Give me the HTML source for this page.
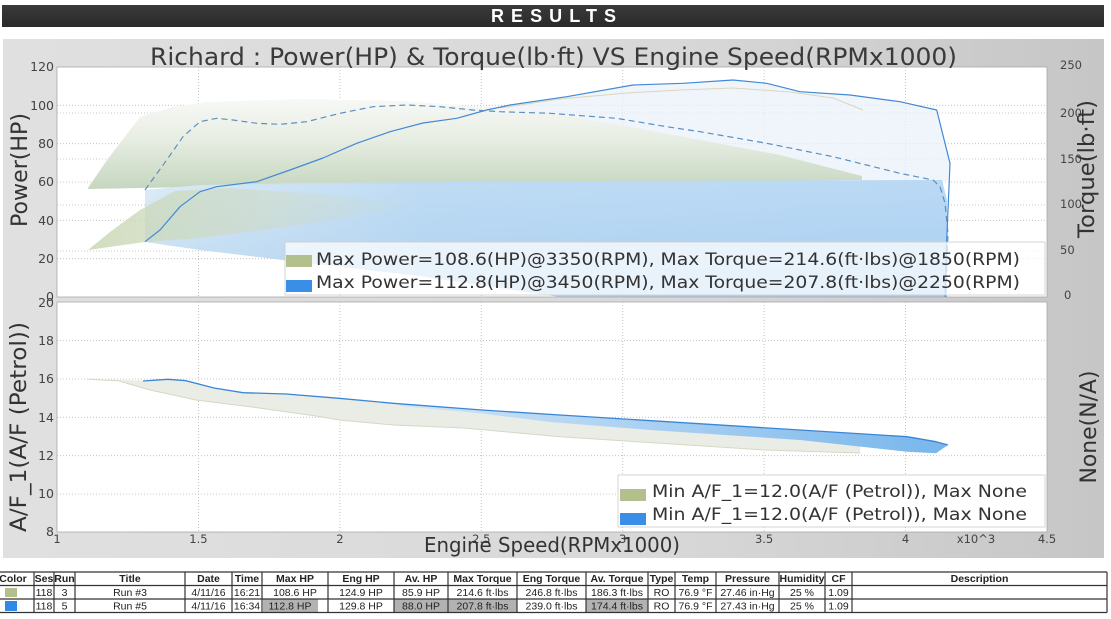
<!DOCTYPE html>
<html><head><meta charset="utf-8"><style>
html,body{margin:0;padding:0;background:#fff;}
svg{display:block;}
</style></head><body>
<svg width="1111" height="619" viewBox="0 0 1111 619" xmlns="http://www.w3.org/2000/svg" font-family="'DejaVu Sans','Liberation Sans',sans-serif">
<defs>
<linearGradient id="panel" x1="0" y1="0" x2="1" y2="0">
<stop offset="0" stop-color="#e0e0e0"/><stop offset="0.6" stop-color="#d8d8d8"/><stop offset="1" stop-color="#c6c6c6"/>
</linearGradient>
<linearGradient id="hdr" x1="0" y1="0" x2="0" y2="1">
<stop offset="0" stop-color="#3a3a3a"/><stop offset="1" stop-color="#2a2a2a"/>
</linearGradient>
<linearGradient id="greenUp" gradientUnits="userSpaceOnUse" x1="0" y1="97" x2="0" y2="188">
<stop offset="0" stop-color="#f8f9f6"/><stop offset="0.45" stop-color="#e8eee4"/><stop offset="1" stop-color="#c6d7c0"/>
</linearGradient>
<linearGradient id="blueMain" gradientUnits="userSpaceOnUse" x1="145" y1="0" x2="947" y2="0">
<stop offset="0" stop-color="#dbeaf5"/><stop offset="0.35" stop-color="#bcdaf3"/><stop offset="1" stop-color="#b6d7f4"/>
</linearGradient>
<linearGradient id="blueVert" gradientUnits="userSpaceOnUse" x1="0" y1="180" x2="0" y2="297">
<stop offset="0" stop-color="#7fb5e8" stop-opacity="0"/><stop offset="1" stop-color="#7fb5e8" stop-opacity="0.3"/>
</linearGradient>
<linearGradient id="greenLow" gradientUnits="userSpaceOnUse" x1="88" y1="0" x2="420" y2="0">
<stop offset="0" stop-color="#c8d6b4" stop-opacity="0.85"/><stop offset="0.5" stop-color="#cfdabe" stop-opacity="0.55"/><stop offset="1" stop-color="#cfdabe" stop-opacity="0"/>
</linearGradient>
<linearGradient id="afBlue" gradientUnits="userSpaceOnUse" x1="400" y1="0" x2="948" y2="0">
<stop offset="0" stop-color="#cfe4f8"/><stop offset="0.5" stop-color="#a6cef1"/><stop offset="1" stop-color="#78b6ec"/>
</linearGradient>
</defs>

<!-- header bar -->
<rect x="2" y="5" width="1102" height="22" fill="url(#hdr)"/>
<text x="491" y="22" font-family="'Liberation Sans',sans-serif" font-weight="bold" font-size="18" fill="#ffffff" textLength="125" lengthAdjust="spacing">RESULTS</text>

<!-- gray panel -->
<rect x="3" y="39" width="1101" height="519" fill="url(#panel)"/>

<!-- plot areas -->
<rect x="57" y="67" width="990" height="230" fill="#ffffff"/>
<rect x="57" y="302" width="990" height="230" fill="#ffffff"/>

<!-- grid -->
<g stroke="#b8b8b8" stroke-width="0.8" stroke-dasharray="1,2" fill="none">
<line x1="198.4" y1="67" x2="198.4" y2="297"/><line x1="339.9" y1="67" x2="339.9" y2="297"/>
<line x1="481.3" y1="67" x2="481.3" y2="297"/><line x1="622.7" y1="67" x2="622.7" y2="297"/>
<line x1="764.1" y1="67" x2="764.1" y2="297"/><line x1="905.6" y1="67" x2="905.6" y2="297"/>
<line x1="57" y1="105.3" x2="1047" y2="105.3"/><line x1="57" y1="143.7" x2="1047" y2="143.7"/>
<line x1="57" y1="182" x2="1047" y2="182"/><line x1="57" y1="220.3" x2="1047" y2="220.3"/>
<line x1="57" y1="258.7" x2="1047" y2="258.7"/>
<line x1="57" y1="113" x2="1047" y2="113"/><line x1="57" y1="159" x2="1047" y2="159"/>
<line x1="57" y1="205" x2="1047" y2="205"/><line x1="57" y1="251" x2="1047" y2="251"/>
<line x1="198.4" y1="302" x2="198.4" y2="532"/><line x1="339.9" y1="302" x2="339.9" y2="532"/>
<line x1="481.3" y1="302" x2="481.3" y2="532"/><line x1="622.7" y1="302" x2="622.7" y2="532"/>
<line x1="764.1" y1="302" x2="764.1" y2="532"/><line x1="905.6" y1="302" x2="905.6" y2="532"/>
<line x1="57" y1="340.7" x2="1047" y2="340.7"/><line x1="57" y1="379" x2="1047" y2="379"/>
<line x1="57" y1="417.3" x2="1047" y2="417.3"/><line x1="57" y1="455.7" x2="1047" y2="455.7"/>
<line x1="57" y1="494" x2="1047" y2="494"/>
</g>

<!-- top fills -->
<polygon points="486.7,110 510,105 566.7,96.7 633,85 683,83.3 733,80 766.7,83.3 800,91.7 850,95 900,101.7 936.7,110 950,163.3 948,181 486.7,181" fill="#e9f2fa" opacity="0.75"/>
<polygon points="88,188 107,160 140,117 173,107 207,102 300,99 400,101 500,108 560,115 620,125 700,140 780,155 862,176 862,180 300,185 88,189" fill="url(#greenUp)"/>
<polygon points="145,190 200,185 300,183 600,181 942,180 947,200 947,297 560,297 420,276 300,262 200,250 145,242" fill="url(#blueMain)" opacity="0.95"/>
<polygon points="145,190 200,185 300,183 600,181 942,180 947,200 947,297 560,297 420,276 300,262 200,250 145,242" fill="url(#blueVert)"/>
<polygon points="88,250 110,232 140,210 175,191 230,188 330,195 420,205 300,225 200,238 145,242" fill="url(#greenLow)"/>

<!-- top lines -->
<polyline points="500,108 560,99 627,93 680,90 733,88 790,92 833,98 863,110" fill="none" stroke="#dcd6bb" stroke-width="1"/>
<polyline points="145,241.7 160,230 180,206.7 200,191.7 216.7,186.7 256.7,181.7 290,170 323,158 356.7,143.3 390,131.7 423,123 456.7,118.3 486.7,110 510,105 566.7,96.7 633,85 683,83.3 733,80 766.7,83.3 800,91.7 850,95 900,101.7 936.7,110 950,163.3 946.7,240 945,297" fill="none" stroke="#4289d6" stroke-width="1.2" stroke-linejoin="round"/>
<polyline points="145,190 166.7,160 183,136.7 200,121.7 216.7,118.3 233,120 256.7,123.3 280,124.3 306.7,121.7 340,113.3 373,106.7 406.7,105 440,106.7 473,110 500,111.7 550,113.3 616.7,118.3 666.7,126.7 700,131.7 766.7,143.3 833,156.7 900,173.3 933,180 940,186.7 945,203 948,233 947,260 946,297" fill="none" stroke="#5b8fc2" stroke-width="1.2" stroke-dasharray="6,4" stroke-linejoin="round"/>

<!-- lower fills/lines -->
<polygon points="87.5,379.3 143,380.5 168,379.3 186,380.7 214,388 243,392.7 286,394 339,398.3 393,403.3 482,410 560,415 693,423.3 800,430 860,434 860,453 764,450 657,443 560,436.7 464,428 393,425 339,420 321,416.7 250,406.7 196,400 150,390 118,380.7" fill="#eaede5"/>
<polyline points="87.5,379.3 118,380.7 150,390 196,400 250,406.7 321,416.7 339,420 393,425 464,428 560,436.7 657,443 764,450 860,453" fill="none" stroke="#d6d8c4" stroke-width="1"/>
<polygon points="400,404.1 482,410 560,415 693,423.3 800,430 907,436.7 936,441.7 948,445 936,453.3 907,451.7 800,440 650,430 550,422 482,413.5 400,406" fill="url(#afBlue)"/>
<polyline points="143,381 168,379.3 186,380.7 214,388 243,392.7 286,394 339,398.3 393,403.3 482,410 560,415 693,423.3 800,430 907,436.7 936,441.7 948,445" fill="none" stroke="#3a86d6" stroke-width="1.3" stroke-linejoin="round"/>

<!-- plot borders -->
<rect x="57" y="67" width="990" height="230" fill="none" stroke="#a8a8a8" stroke-width="0.8"/>
<rect x="57" y="302" width="990" height="230" fill="none" stroke="#a8a8a8" stroke-width="0.8"/>

<!-- legends -->
<rect x="285" y="242" width="760" height="53" fill="#ffffff" fill-opacity="0.72" stroke="#cccccc" stroke-width="0.8"/>
<rect x="286" y="255" width="26" height="12" fill="#b3c08e"/>
<rect x="286" y="280" width="26" height="12" fill="#3a8ee6"/>
<text x="316" y="265" font-size="17" fill="#333" textLength="704" lengthAdjust="spacingAndGlyphs">Max Power=108.6(HP)@3350(RPM), Max Torque=214.6(ft·lbs)@1850(RPM)</text>
<text x="316" y="288" font-size="17" fill="#333" textLength="704" lengthAdjust="spacingAndGlyphs">Max Power=112.8(HP)@3450(RPM), Max Torque=207.8(ft·lbs)@2250(RPM)</text>

<rect x="618" y="475" width="427" height="52" fill="#ffffff" stroke="#cccccc" stroke-width="0.8"/>
<rect x="620" y="489" width="26" height="12" fill="#b3c08e"/>
<rect x="620" y="513" width="26" height="12" fill="#3a8ee6"/>
<text x="652" y="497" font-size="17" fill="#333" textLength="375" lengthAdjust="spacingAndGlyphs">Min A/F_1=12.0(A/F (Petrol)), Max None</text>
<text x="652" y="520" font-size="17" fill="#333" textLength="375" lengthAdjust="spacingAndGlyphs">Min A/F_1=12.0(A/F (Petrol)), Max None</text>

<!-- title -->
<text x="150" y="65" font-size="24" fill="#3a3a3a" textLength="807" lengthAdjust="spacingAndGlyphs">Richard : Power(HP) &amp; Torque(lb·ft) VS Engine Speed(RPMx1000)</text>

<!-- left tick labels -->
<g font-size="12.5" fill="#444" text-anchor="end">
<text x="54" y="71">120</text><text x="54" y="110">100</text><text x="54" y="148">80</text>
<text x="54" y="186">60</text><text x="54" y="225">40</text><text x="54" y="263">20</text>
<text x="54" y="301">0</text>
<text x="54" y="307">20</text><text x="54" y="345">18</text><text x="54" y="383">16</text>
<text x="54" y="422">14</text><text x="54" y="460">12</text><text x="54" y="498">10</text>
<text x="54" y="536">8</text>
</g>
<!-- right tick labels -->
<g font-size="11.5" fill="#444">
<text x="1060" y="69">250</text><text x="1060" y="117">200</text><text x="1060" y="163">150</text>
<text x="1060" y="208">100</text><text x="1060" y="254">50</text><text x="1064" y="299">0</text>
</g>
<!-- x tick labels -->
<g font-size="11.5" fill="#444" text-anchor="middle">
<text x="57" y="543">1</text><text x="198.4" y="543">1.5</text><text x="339.9" y="543">2</text>
<text x="481.3" y="543">2.5</text><text x="622.7" y="543">3</text><text x="764.1" y="543">3.5</text>
<text x="905.6" y="543">4</text><text x="1047" y="543">4.5</text>
<text x="976" y="543">x10^3</text>
</g>

<!-- axis titles -->
<text x="424" y="552" font-size="20" fill="#333" textLength="256" lengthAdjust="spacingAndGlyphs">Engine Speed(RPMx1000)</text>
<text transform="translate(27,170) rotate(-90)" font-size="22" fill="#333" text-anchor="middle" textLength="114" lengthAdjust="spacingAndGlyphs">Power(HP)</text>
<text transform="translate(26,427) rotate(-90)" font-size="22" fill="#333" text-anchor="middle" textLength="210" lengthAdjust="spacingAndGlyphs">A/F_1(A/F (Petrol))</text>
<text transform="translate(1094,169) rotate(-90)" font-size="22" fill="#333" text-anchor="middle" textLength="138" lengthAdjust="spacingAndGlyphs">Torque(lb·ft)</text>
<text transform="translate(1096,427) rotate(-90)" font-size="22" fill="#333" text-anchor="middle" textLength="113" lengthAdjust="spacingAndGlyphs">None(N/A)</text>

<!-- table -->
<g font-family="'Liberation Sans',Arial,sans-serif" font-size="10.5" fill="#222">
<rect x="263" y="599.5" width="55" height="12.5" fill="#b2b2b2"/>
<rect x="394.5" y="599.5" width="53" height="12.5" fill="#b2b2b2"/>
<rect x="448.5" y="599.5" width="68" height="12.5" fill="#b2b2b2"/>
<rect x="586.5" y="599.5" width="61" height="12.5" fill="#b2b2b2"/>
<rect x="5" y="588" width="12" height="9" fill="#b3c08e"/>
<rect x="5" y="601" width="12" height="10" fill="#2f8ae6"/>
<g stroke="#333" stroke-width="1.2" fill="none">
<line x1="0" y1="572" x2="1107" y2="572"/><line x1="0" y1="585.5" x2="1107" y2="585.5"/>
<line x1="0" y1="599" x2="1107" y2="599"/><line x1="0" y1="612.5" x2="1107" y2="612.5"/>
<line x1="34" y1="572" x2="34" y2="612.5"/><line x1="54" y1="572" x2="54" y2="612.5"/>
<line x1="75" y1="572" x2="75" y2="612.5"/><line x1="185" y1="572" x2="185" y2="612.5"/>
<line x1="232" y1="572" x2="232" y2="612.5"/><line x1="262" y1="572" x2="262" y2="612.5"/>
<line x1="328" y1="572" x2="328" y2="612.5"/><line x1="394" y1="572" x2="394" y2="612.5"/>
<line x1="448" y1="572" x2="448" y2="612.5"/><line x1="517" y1="572" x2="517" y2="612.5"/>
<line x1="586" y1="572" x2="586" y2="612.5"/><line x1="648" y1="572" x2="648" y2="612.5"/>
<line x1="675" y1="572" x2="675" y2="612.5"/><line x1="716" y1="572" x2="716" y2="612.5"/>
<line x1="779" y1="572" x2="779" y2="612.5"/><line x1="825" y1="572" x2="825" y2="612.5"/>
<line x1="852" y1="572" x2="852" y2="612.5"/><line x1="1107" y1="572" x2="1107" y2="612.5"/>
</g>
<g font-weight="bold" text-anchor="middle">
<text x="13" y="582">Color</text><text x="44" y="582">Ses</text><text x="64.5" y="582">Run</text>
<text x="130" y="582">Title</text><text x="208.5" y="582">Date</text><text x="247" y="582">Time</text>
<text x="295" y="582">Max HP</text><text x="361" y="582">Eng HP</text><text x="421" y="582">Av. HP</text>
<text x="482.5" y="582">Max Torque</text><text x="551.5" y="582">Eng Torque</text><text x="617" y="582">Av. Torque</text>
<text x="661.5" y="582">Type</text><text x="695.5" y="582">Temp</text><text x="747.5" y="582">Pressure</text>
<text x="802" y="582">Humidity</text><text x="838.5" y="582">CF</text><text x="979.5" y="582">Description</text>
</g>
<g text-anchor="middle">
<text x="44" y="596">118</text><text x="64.5" y="596">3</text><text x="130" y="596">Run #3</text>
<text x="208.5" y="596">4/11/16</text><text x="247" y="596">16:21</text><text x="295" y="596">108.6 HP</text>
<text x="361" y="596">124.9 HP</text><text x="421" y="596">85.9 HP</text><text x="482.5" y="596">214.6 ft·lbs</text>
<text x="551.5" y="596">246.8 ft·lbs</text><text x="617" y="596">186.3 ft·lbs</text><text x="661.5" y="596">RO</text>
<text x="695.5" y="596">76.9 °F</text><text x="747.5" y="596">27.46 in·Hg</text><text x="802" y="596">25 %</text>
<text x="838.5" y="596">1.09</text>
<text x="44" y="609.5">118</text><text x="64.5" y="609.5">5</text><text x="130" y="609.5">Run #5</text>
<text x="208.5" y="609.5">4/11/16</text><text x="247" y="609.5">16:34</text><text x="290" y="609.5">112.8 HP</text>
<text x="361" y="609.5">129.8 HP</text><text x="421" y="609.5">88.0 HP</text><text x="482.5" y="609.5">207.8 ft·lbs</text>
<text x="551.5" y="609.5">239.0 ft·lbs</text><text x="617" y="609.5">174.4 ft·lbs</text><text x="661.5" y="609.5">RO</text>
<text x="695.5" y="609.5">76.9 °F</text><text x="747.5" y="609.5">27.43 in·Hg</text><text x="802" y="609.5">25 %</text>
<text x="838.5" y="609.5">1.09</text>
</g>
</g>
</svg>
</body></html>
